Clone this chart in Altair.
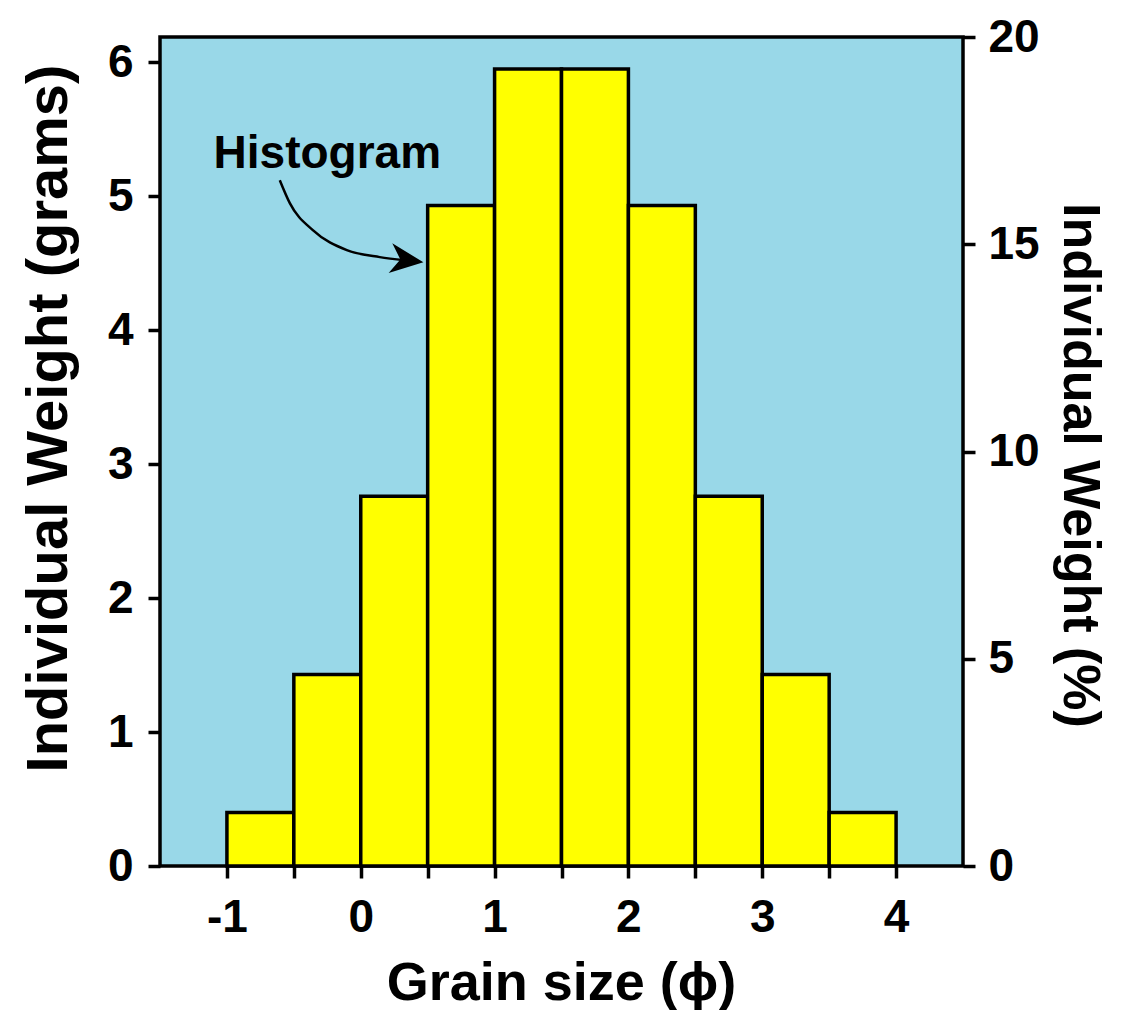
import altair as alt
import pandas as pd

# ---- data ----
bin_start = [-1.0, -0.5, 0.0, 0.5, 1.0, 1.5, 2.0, 2.5, 3.0, 3.5]
bin_end = [-0.5, 0.0, 0.5, 1.0, 1.5, 2.0, 2.5, 3.0, 3.5, 4.0]
weight_g = [0.40, 1.43, 2.76, 4.93, 5.95, 5.95, 4.93, 2.76, 1.43, 0.40]

x_ticks = [-1.0, -0.5, 0.0, 0.5, 1.0, 1.5, 2.0, 2.5, 3.0, 3.5, 4.0]
left_ticks = [0, 1, 2, 3, 4, 5, 6]
right_ticks = [0, 5, 10, 15, 20]

annot_text = ["Histogram"]
annot_x = [-0.25]
annot_y = [5.21]

arrow_x = [-0.605, -0.530, -0.358, -0.104, 0.142, 0.328]
arrow_y = [5.119, 4.948, 4.746, 4.597, 4.545, 4.522]
head_x = [0.345]
head_y = [4.522]

total = sum(weight_g)
df = pd.DataFrame({"start": bin_start, "end": bin_end, "weight": weight_g})
df["percent"] = df["weight"] / total * 100.0
ymax_g = total * 0.20  # 20 % on the right axis

FONT = "Liberation Sans"
XDOM = [-1.5, 4.5]

xscale = alt.Scale(domain=XDOM, nice=False, zero=False)
gscale = alt.Scale(domain=[0, ymax_g], nice=False, zero=True)

bars = alt.Chart(df).mark_rect(
    fill="#FFFF00", stroke="black", strokeWidth=3.5
).encode(
    x=alt.X("start:Q", scale=xscale,
            axis=alt.Axis(values=x_ticks, title="Grain size (ϕ)",
                          labelExpr="datum.value % 1 == 0 ? '' + datum.value : ''",
                          labelPadding=17, labelFlush=False,
                          titleX=401, titleY=133, titleBaseline="alphabetic",
                          titleAlign="center")),
    x2="end:Q",
    y=alt.Y("weight:Q", scale=gscale,
            axis=alt.Axis(values=left_ticks, title="Individual Weight (grams)",
                          format="d", labelPadding=15, labelFlush=False,
                          titleAngle=270, titleX=-94, titleY=381,
                          titleFontSize=58,
                          titleBaseline="alphabetic", titleAlign="center")),
    y2=alt.datum(0),
)

txt_df = pd.DataFrame({"t": annot_text, "x": annot_x, "y": annot_y})
text = alt.Chart(txt_df).mark_text(
    font=FONT, fontSize=46, fontWeight="bold", color="black",
    align="center", baseline="alphabetic"
).encode(
    x=alt.X("x:Q", scale=xscale),
    y=alt.Y("y:Q", scale=gscale),
    text="t:N",
)

arr_df = pd.DataFrame({"x": arrow_x, "y": arrow_y, "o": list(range(len(arrow_x)))})
arrow = alt.Chart(arr_df).mark_line(
    color="black", strokeWidth=2.5, interpolate="monotone"
).encode(
    x=alt.X("x:Q", scale=xscale),
    y=alt.Y("y:Q", scale=gscale),
    order="o:O",
)

head_df = pd.DataFrame({"x": head_x, "y": head_y})
head = alt.Chart(head_df).mark_point(
    shape="M 1 0 L -1 -0.9 L -0.4 0 L -1 0.9 Z",
    filled=True, color="black", opacity=1, size=1100, angle=7
).encode(
    x=alt.X("x:Q", scale=xscale),
    y=alt.Y("y:Q", scale=gscale),
)

grams_layer = alt.layer(bars, text, arrow, head)

pct = alt.Chart(df).mark_rect(opacity=0).encode(
    x=alt.X("start:Q", scale=xscale),
    x2="end:Q",
    y=alt.Y("percent:Q", scale=alt.Scale(domain=[0, 20], nice=False, zero=True),
            axis=alt.Axis(orient="right", values=right_ticks,
                          title="Individual Weight (%)", format="d",
                          labelPadding=13, labelFlush=False,
                          titleAngle=90, titleX=100, titleY=428,
                          titleFontSize=52,
                          titleBaseline="alphabetic", titleAlign="center")),
    y2=alt.datum(0),
)

chart = alt.layer(grams_layer, pct).resolve_scale(
    y="independent"
).properties(
    width=803, height=829,
    autosize=alt.AutoSizeParams(type="none"),
    padding={"left": 152, "top": 29, "right": 155, "bottom": 144},
    background="white",
).configure_view(
    fill="#99D8E8", stroke="black", strokeWidth=3.5
).configure_axis(
    grid=False, domain=False,
    tickColor="black", tickWidth=3.5, tickSize=12,
    labelFont=FONT, labelFontSize=46, labelFontWeight="bold", labelColor="black",
    titleFont=FONT, titleFontSize=54, titleFontWeight="bold", titleColor="black",
)

chart.save("out.html", embed_options={"renderer": "svg", "actions": False})
